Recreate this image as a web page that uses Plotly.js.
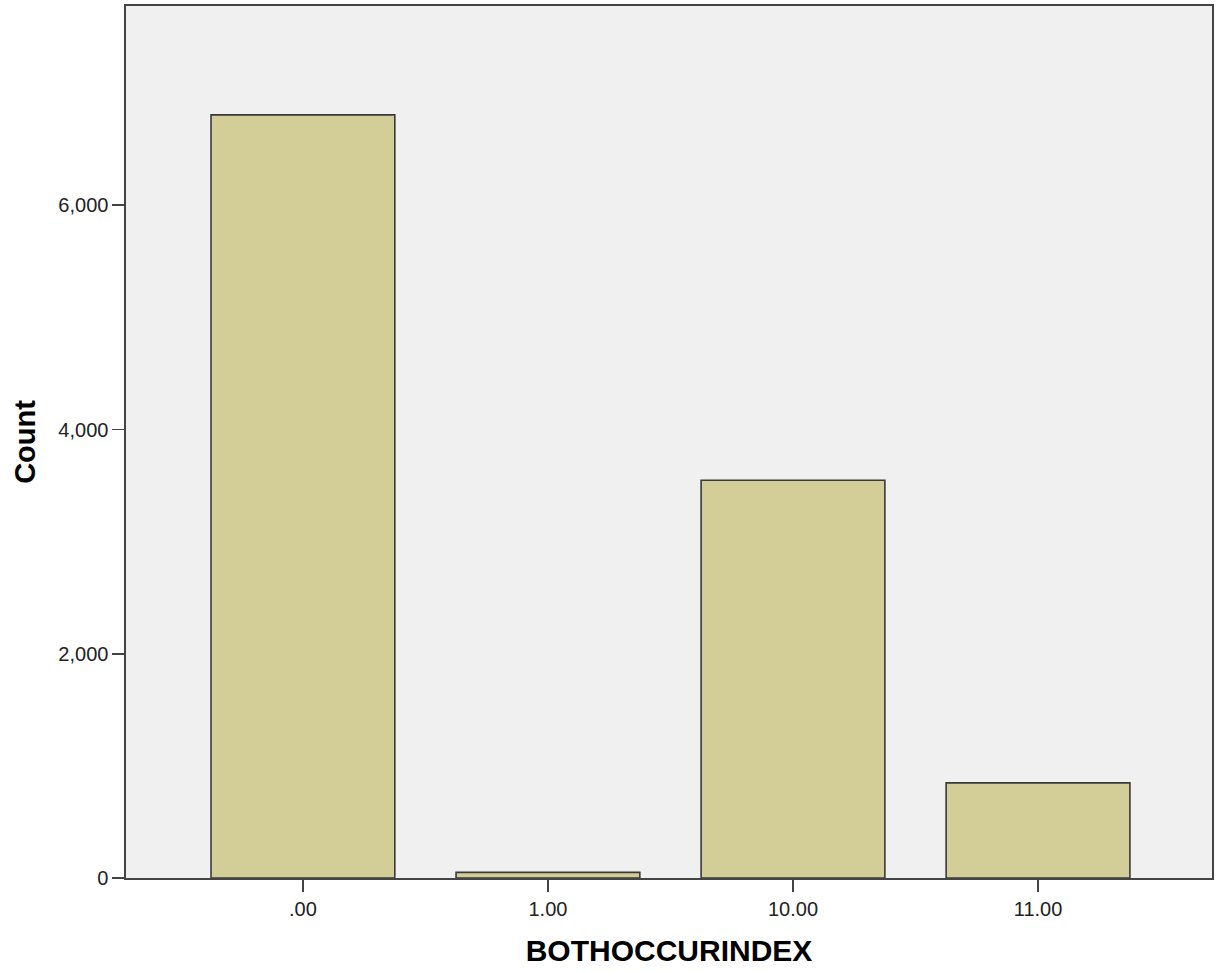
<!DOCTYPE html>
<html>
<head>
<meta charset="utf-8">
<script src="https://cdn.plot.ly/plotly-3.0.1.min.js"></script>
<style>
html, body { margin: 0; padding: 0; background: #ffffff; }
#chart { width: 1217px; height: 972px; }
</style>
</head>
<body>
<div id="chart"></div>
<script>
var categories = [".00", "1.00", "10.00", "11.00"];
var counts = [6806, 50, 3547, 848];
var yTickVals = [0, 2000, 4000, 6000];
var xTitle = "BOTHOCCURINDEX";
var yTitle = "Count";

var fontFamily = "'Liberation Sans', Arial, Helvetica, sans-serif";

var trace = {
  type: "bar",
  x: categories,
  y: counts,
  width: 0.75,
  marker: {
    color: "#d3ce97",
    line: { color: "#3a3a3a", width: 1.6 }
  },
  hoverinfo: "x+y"
};

var layout = {
  width: 1217,
  height: 972,
  margin: { l: 126, r: 5, t: 6, b: 94, pad: 0 },
  paper_bgcolor: "#ffffff",
  plot_bgcolor: "#f0f0f0",
  showlegend: false,
  font: { family: fontFamily, color: "#222222", size: 20 },
  xaxis: {
    type: "category",
    range: [-0.722, 3.71],
    showgrid: false,
    zeroline: false,
    showline: true,
    mirror: true,
    linecolor: "#444444",
    linewidth: 1.6,
    ticks: "outside",
    ticklen: 12,
    tickwidth: 1.6,
    tickcolor: "#444444",
    tickfont: { family: fontFamily, size: 20, color: "#222222" },
    title: {
      text: xTitle,
      font: { family: fontFamily, size: 30, color: "#000000", weight: "bold" },
      standoff: 21
    },
    automargin: false,
    fixedrange: true
  },
  yaxis: {
    range: [0, 7777],
    tickvals: yTickVals,
    tickformat: ",d",
    showgrid: false,
    zeroline: false,
    showline: true,
    mirror: true,
    linecolor: "#444444",
    linewidth: 1.6,
    ticks: "outside",
    ticklen: 12,
    tickwidth: 1.6,
    tickcolor: "#444444",
    tickfont: { family: fontFamily, size: 20, color: "#222222" },
    title: {
      text: yTitle,
      font: { family: fontFamily, size: 29, color: "#000000", weight: "bold" },
      standoff: 14
    },
    automargin: false,
    fixedrange: true
  }
};

Plotly.newPlot("chart", [trace], layout, { displayModeBar: false, staticPlot: true });
</script>
</body>
</html>
